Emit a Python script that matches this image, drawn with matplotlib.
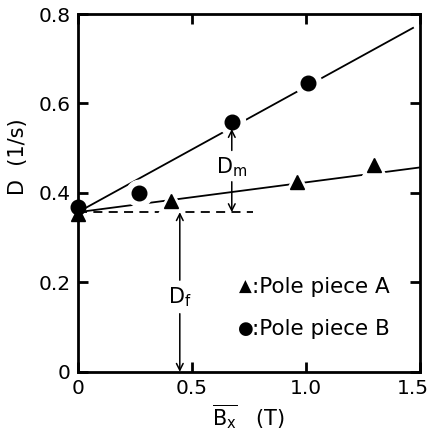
import matplotlib
matplotlib.use("Agg")
import matplotlib.pyplot as plt
import matplotlib.transforms as mtransforms

# data
bx_A = [0.0, 0.41, 0.96, 1.30]
d_A = [0.354, 0.383, 0.424, 0.462]
bx_B = [0.0, 0.27, 0.675, 1.01]
d_B = [0.368, 0.40, 0.558, 0.645]

# hand-drawn fit lines
fit_A_x = [0.0, 1.5]
fit_A_y = [0.357, 0.457]
fit_B_x = [0.0, 1.47]
fit_B_y = [0.357, 0.769]

d_f = 0.357          # level of dashed line
dm_x, df_x = 0.675, 0.447
dm_top = 0.543

legend_labels = [":Pole piece A", ":Pole piece B"]

plt.rcParams["font.family"] = "DejaVu Sans"
plt.rcParams["mathtext.fontset"] = "dejavusans"

fig = plt.figure(figsize=(4.28, 4.38), dpi=100)
ax = fig.add_axes([0.182, 0.151, 0.799, 0.817])

lw = 1.3
ax.plot(fit_A_x, fit_A_y, color="black", lw=lw, zorder=2)
ax.plot(fit_B_x, fit_B_y, color="black", lw=lw, zorder=2)
ax.plot([0, 0.77], [d_f, d_f], color="black", lw=lw, ls=(0, (5, 3.5)), zorder=2)

# white halo to break lines at markers
ax.plot(bx_A[1:], d_A[1:], ls="none", marker="^", ms=19, color="white", zorder=3)
ax.plot(bx_B[1:], d_B[1:], ls="none", marker="o", ms=19, color="white", zorder=3)
ax.plot(bx_A, d_A, ls="none", marker="^", ms=10, color="black", zorder=4, clip_on=False)
ax.plot(bx_B, d_B, ls="none", marker="o", ms=10.5, color="black", zorder=4, clip_on=False)

arr = dict(arrowstyle="->", color="black", lw=1.1, mutation_scale=12, shrinkA=0, shrinkB=0)
# D_m
ax.annotate("", xy=(dm_x, dm_top), xytext=(dm_x, 0.495), arrowprops=arr, zorder=5)
ax.annotate("", xy=(dm_x, d_f), xytext=(dm_x, 0.425), arrowprops=arr, zorder=5)
ax.text(dm_x, 0.458, r"$\mathrm{D_m}$", fontsize=15, ha="center", va="center")
# D_f
ax.annotate("", xy=(df_x, d_f), xytext=(df_x, 0.205), arrowprops=arr)
ax.annotate("", xy=(df_x, 0.0), xytext=(df_x, 0.13), arrowprops=arr)
ax.text(df_x, 0.168, r"$\mathrm{D_f}$", fontsize=15, ha="center", va="center")

# legend as text with small symbols
ax.text(0.735, 0.19, "\u25b2", fontsize=12, ha="center", va="center")
ax.text(0.735, 0.096, "\u25cf", fontsize=13, ha="center", va="center")
ax.text(0.765, 0.19, legend_labels[0], fontsize=15.5, ha="left", va="center")
ax.text(0.765, 0.096, legend_labels[1], fontsize=15.5, ha="left", va="center")

ax.set_xlim(0, 1.5)
ax.set_ylim(0, 0.8)
ax.set_xticks([0, 0.5, 1.0, 1.5])
ax.set_xticklabels(["0", "0.5", "1.0", "1.5"])
ax.set_yticks([0, 0.2, 0.4, 0.6, 0.8])
ax.set_yticklabels(["0", "0.2", "0.4", "0.6", "0.8"])
ax.tick_params(direction="in", length=7, width=2, top=True, right=True,
               labelsize=14.5, pad=5)
for s in ax.spines.values():
    s.set_linewidth(2)

# keep the last x label inside the figure
lab = ax.get_xticklabels()[-1]
lab.set_transform(lab.get_transform() +
                  mtransforms.ScaledTranslation(-7 / 100, 0, fig.dpi_scale_trans))

ax.set_xlabel(r"$\overline{\mathrm{B_x}}$   (T)", fontsize=15, labelpad=4)
ax.set_ylabel("D  (1/s)", fontsize=15)
ax.yaxis.set_label_coords(-0.145, 0.6)

fig.savefig("out.png", dpi=100)
